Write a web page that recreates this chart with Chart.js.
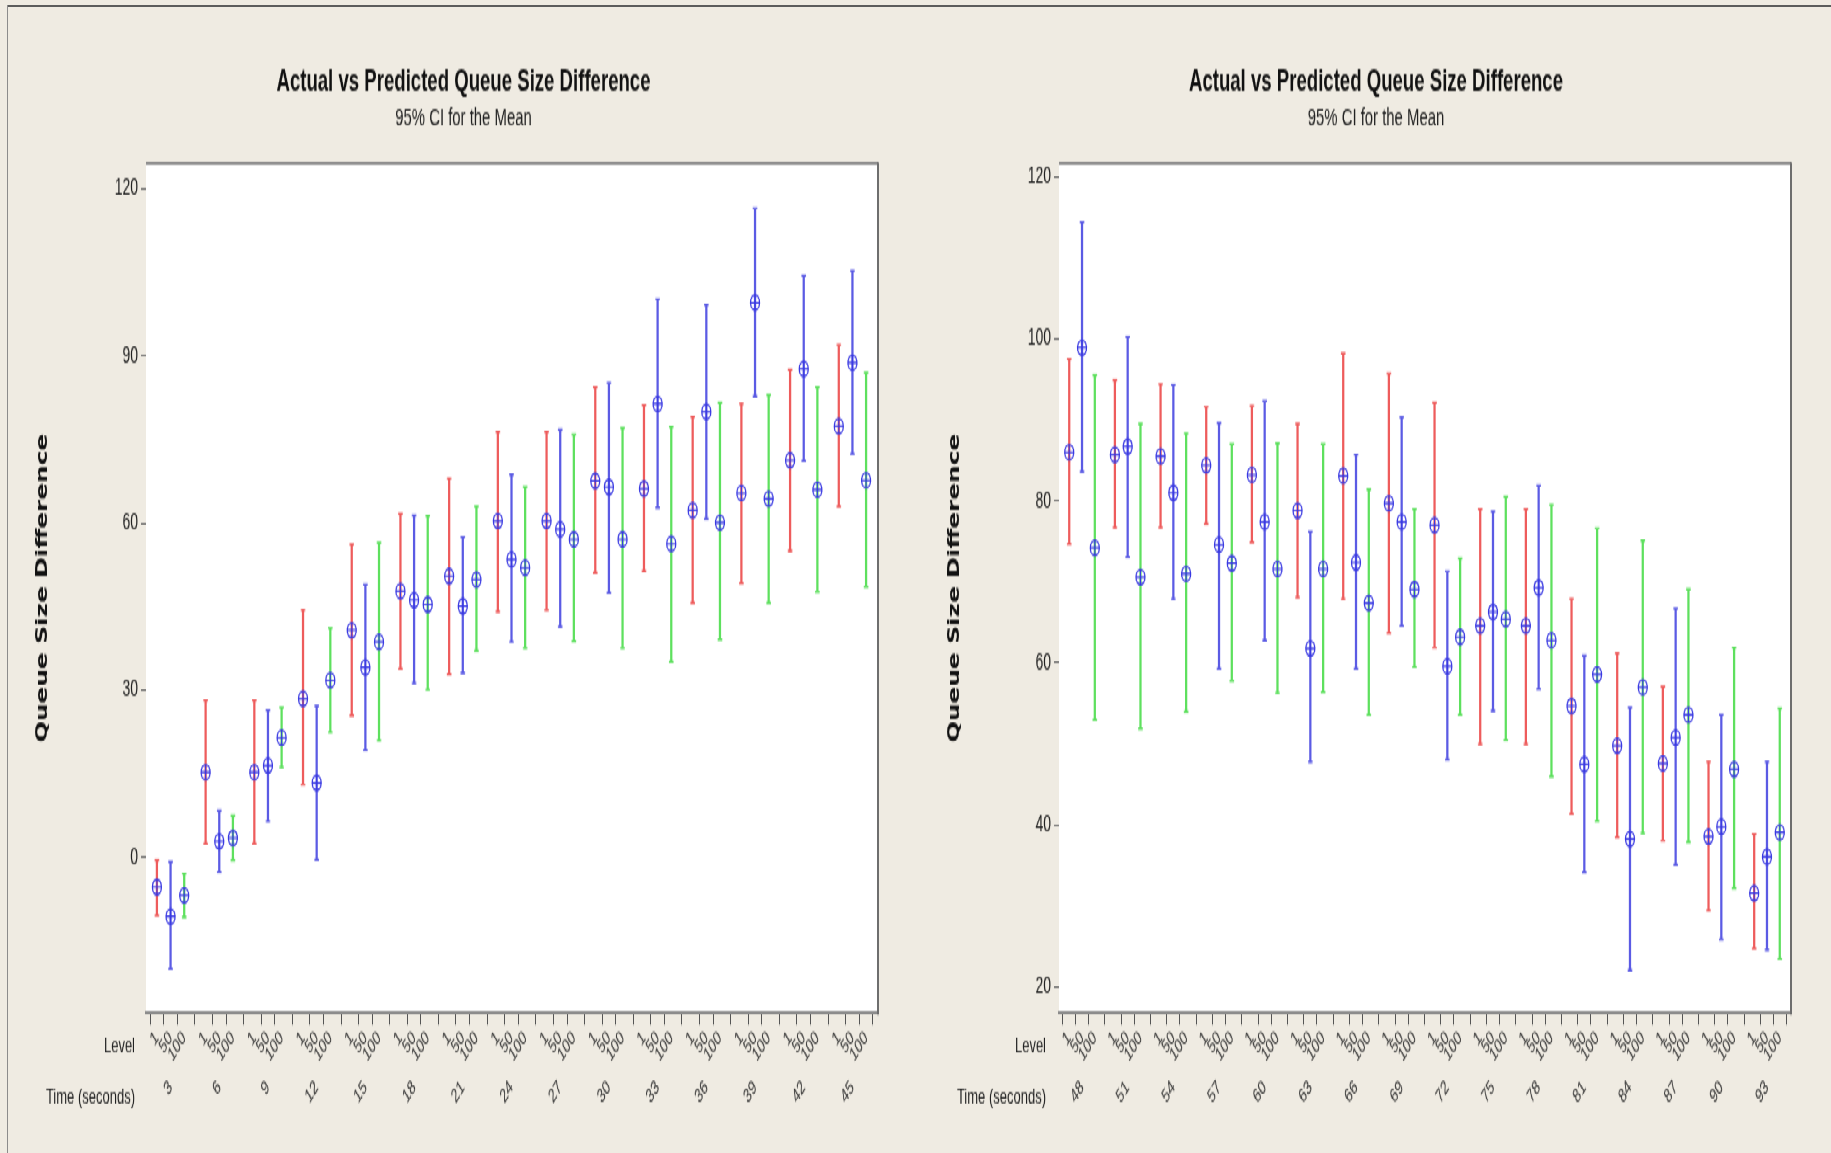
<!DOCTYPE html>
<html><head><meta charset="utf-8">
<script src="https://cdn.jsdelivr.net/npm/chart.js@4.4.1/dist/chart.umd.min.js"></script>
<style>
html,body{margin:0;padding:0;background:#EFEBE2;overflow:hidden;width:1831px;height:1153px;}
#stage{position:absolute;left:0;top:0;width:1831px;height:699px;transform-origin:0 0;transform:scaleY(1.64950);}
#cA{position:absolute;left:0;top:0;}
#cB{position:absolute;left:916px;top:0;}
#ft{position:absolute;left:8px;top:5px;width:1823px;height:2px;background:#5c5c5c;}
#fl{position:absolute;left:7px;top:5px;width:1px;height:1148px;background:#8c8c8c;}
</style></head><body>
<div id="stage"><canvas id="cA" width="916" height="699"></canvas><canvas id="cB" width="915" height="699"></canvas></div>
<div id="ft"></div><div id="fl"></div>
<script>
// ---------- data ----------
const levels = ['1', '50', '100'];
const timesA = [3, 6, 9, 12, 15, 18, 21, 24, 27, 30, 33, 36, 39, 42, 45];
const timesB = [48, 51, 54, 57, 60, 63, 66, 69, 72, 75, 78, 81, 84, 87, 90, 93];
const yTicksA = [0, 30, 60, 90, 120];
const yTicksB = [20, 40, 60, 80, 100, 120];

// left panel (3..45 s)
const meanA1   = [-5.3, 15.3, 15.3, 28.5, 40.8, 47.8, 50.5, 60.4, 60.4, 67.6, 66.2, 62.3, 65.4, 71.3, 77.4];
const lowA1    = [-10.4, 2.5, 2.5, 13.1, 25.5, 33.9, 32.9, 44.1, 44.4, 51.1, 51.4, 45.7, 49.2, 55.0, 63.0];
const highA1   = [-0.5, 28.2, 28.2, 44.4, 56.2, 61.7, 68.0, 76.4, 76.4, 84.4, 81.2, 79.1, 81.4, 87.5, 92.0];
const meanA50  = [-10.6, 2.9, 16.5, 13.4, 34.1, 46.2, 45.1, 53.5, 58.9, 66.5, 81.4, 80.0, 99.6, 87.7, 88.8];
const lowA50   = [-20.0, -2.6, 6.5, -0.4, 19.3, 31.3, 33.1, 38.7, 41.4, 47.5, 62.8, 60.8, 82.8, 71.2, 72.4];
const highA50  = [-0.8, 8.4, 26.4, 27.2, 49.0, 61.4, 57.5, 68.7, 76.8, 85.2, 100.2, 99.2, 116.5, 104.4, 105.3];
const meanA100 = [-6.8, 3.5, 21.5, 31.8, 38.7, 45.4, 49.9, 52.0, 57.1, 57.1, 56.3, 60.1, 64.4, 66.0, 67.7];
const lowA100  = [-10.7, -0.5, 16.2, 22.5, 21.0, 30.1, 37.1, 37.6, 38.8, 37.6, 35.1, 39.1, 45.7, 47.7, 48.6];
const highA100 = [-2.9, 7.5, 26.9, 41.2, 56.5, 61.3, 63.0, 66.5, 75.9, 77.1, 77.3, 81.6, 83.0, 84.4, 87.0];

// right panel (48..93 s)
const meanB1   = [86.0, 85.7, 85.5, 84.4, 83.2, 78.8, 83.1, 79.7, 77.0, 64.6, 64.6, 54.7, 49.8, 47.6, 38.6, 31.6];
const lowB1    = [74.7, 76.7, 76.7, 77.2, 74.9, 68.1, 67.9, 63.7, 61.9, 50.0, 50.0, 41.4, 38.5, 38.1, 29.5, 24.8];
const highB1   = [97.5, 94.9, 94.4, 91.6, 91.7, 89.5, 98.2, 95.7, 92.1, 79.0, 79.0, 67.9, 61.2, 57.1, 47.8, 38.9];
const meanB50  = [98.9, 86.7, 81.0, 74.6, 77.4, 61.8, 72.4, 77.4, 59.6, 66.3, 69.3, 47.5, 38.3, 50.8, 39.8, 36.1];
const lowB50   = [83.6, 73.1, 67.9, 59.3, 62.8, 47.8, 59.3, 64.6, 48.1, 54.1, 56.8, 34.2, 22.1, 35.1, 25.9, 24.6];
const highB50  = [114.4, 100.2, 94.3, 89.6, 92.3, 76.2, 85.7, 90.3, 71.3, 78.7, 81.9, 60.9, 54.5, 66.7, 53.6, 47.8];
const meanB100 = [74.2, 70.6, 71.0, 72.3, 71.6, 71.6, 67.4, 69.1, 63.2, 65.4, 62.8, 58.6, 57.0, 53.6, 46.9, 39.1];
const lowB100  = [53.0, 51.9, 54.0, 57.8, 56.3, 56.4, 53.6, 59.5, 53.6, 50.5, 46.0, 40.5, 39.0, 37.9, 32.2, 23.5];
const highB100 = [95.5, 89.5, 88.3, 87.0, 87.1, 87.0, 81.4, 79.0, 72.9, 80.5, 79.5, 76.6, 75.1, 69.1, 61.9, 54.4];

// ---------- style ----------
const BG = '#EFEBE2';
const NARROW = "'Liberation Sans Narrow', 'Liberation Sans', Arial, sans-serif";
const SANS = "'Liberation Sans', Arial, sans-serif";
const levelColors = ['#EE5C5C', '#5B5BE4', '#5EE05E'];
const markColor = '#3A3AE2';
const GROUP = 3.57;   // spacing of time groups, in level units
const EDGE = 0.8;

const deco = {
  id: 'deco',
  beforeDraw(chart) {
    const {ctx, chartArea: a, width, height} = chart;
    ctx.save();
    ctx.fillStyle = BG; ctx.fillRect(0, 0, width, height);
    ctx.fillStyle = '#ffffff'; ctx.fillRect(a.left, a.top, a.right - a.left, a.bottom - a.top);
    ctx.restore();
  },
  afterDraw(chart, args, o) {
    const {ctx, chartArea: a} = chart;
    ctx.save();
    // frame: top and right edges
    ctx.strokeStyle = '#6e6e6e';
    ctx.lineWidth = 1.5;
    ctx.beginPath(); ctx.moveTo(a.left, a.top + 0.5); ctx.lineTo(a.right + 1, a.top + 0.5); ctx.stroke();
    ctx.lineWidth = 2;
    ctx.beginPath(); ctx.moveTo(a.right + 1, a.top); ctx.lineTo(a.right + 1, a.bottom + 1); ctx.stroke();
    // titles
    ctx.fillStyle = '#111';
    ctx.textAlign = 'center'; ctx.textBaseline = 'alphabetic';
    ctx.font = 'bold 18.6px ' + SANS;
    ctx.fillText(o.title, o.titleX, 54.8);
    ctx.fillStyle = '#222';
    ctx.font = '14.9px ' + SANS;
    ctx.fillText(o.subtitle, o.titleX, 76.3);
    // row headings of the x axis
    ctx.font = '13px ' + NARROW;
    ctx.fillStyle = '#222';
    ctx.textAlign = 'right'; ctx.textBaseline = 'middle';
    ctx.fillText('Level', a.left - o.headGap, 634.5);
    ctx.fillText('Time (seconds)', a.left - o.headGap, 665);
    ctx.restore();
  }
};

function buildPanel(canvasId, times, meanArr, lowArr, highArr, yMin, yMax, yTicks, cfg) {
  const pts = [];
  times.forEach((t, g) => {
    for (let l = 0; l < 3; l++) {
      pts.push({x: g * GROUP + l, l: l, m: meanArr[l][g], lo: lowArr[l][g], hi: highArr[l][g]});
    }
  });
  const xMax = (times.length - 1) * GROUP + 2 + EDGE;
  const caps = [], capColors = [];
  pts.forEach(p => {
    caps.push({x: p.x, y: p.lo}); capColors.push(levelColors[p.l]);
    caps.push({x: p.x, y: p.hi}); capColors.push(levelColors[p.l]);
  });
  const means = pts.map(p => ({x: p.x, y: p.m}));

  return new Chart(document.getElementById(canvasId), {
    type: 'bar',
    data: {
      datasets: [
        {type: 'scatter', data: means, pointStyle: 'cross', pointRadius: 4.5, pointBorderWidth: 1.1,
         pointBorderColor: markColor, pointBackgroundColor: 'rgba(0,0,0,0)', order: 1},
        {type: 'scatter', data: means, pointStyle: 'circle', pointRadius: 4.5, pointBorderWidth: 1.3,
         pointBorderColor: markColor, pointBackgroundColor: 'rgba(0,0,0,0)', order: 1},
        {type: 'scatter', data: caps, pointStyle: 'line', pointRadius: 2.3, pointBorderWidth: 1.4,
         pointBorderColor: capColors, order: 2},
        {type: 'bar', data: pts.map(p => ({x: p.x, y: [p.lo, p.hi]})),
         backgroundColor: pts.map(p => levelColors[p.l]), borderWidth: 0,
         barThickness: 1.6, grouped: false, order: 3}
      ]
    },
    options: {
      responsive: false, animation: false, devicePixelRatio: 1, events: [],
      layout: {padding: {left: cfg.padL, right: cfg.padR, top: 98.6, bottom: 23.7}},
      plugins: {
        legend: {display: false}, tooltip: {enabled: false},
        deco: {title: 'Actual vs Predicted Queue Size Difference', subtitle: '95% CI for the Mean',
               titleX: cfg.titleX, headGap: cfg.headGap}
      },
      scales: {
        x: {
          type: 'linear', position: 'bottom', min: -EDGE, max: xMax, offset: false,
          afterBuildTicks: s => { s.ticks = pts.map(p => ({value: p.x})); },
          afterFit: s => { s.height = 36; },
          grid: {display: true, drawOnChartArea: false, drawTicks: true, tickLength: 7, color: '#555', lineWidth: 1},
          border: {display: true, color: '#8c8c8c', width: 2},
          ticks: {autoSkip: false, minRotation: 45, maxRotation: 45, padding: 1,
                  font: {family: NARROW, size: 12}, color: '#333',
                  callback: (v, i) => levels[i % 3]}
        },
        x2: {
          type: 'linear', position: 'bottom', min: -EDGE, max: xMax, offset: false,
          afterBuildTicks: s => { s.ticks = times.map((t, g) => ({value: g * GROUP + 1})); },
          afterFit: s => { s.height = 25; },
          grid: {display: false, drawTicks: false}, border: {display: false},
          ticks: {autoSkip: false, minRotation: 45, maxRotation: 45, padding: 2,
                  font: {family: NARROW, size: 12}, color: '#333',
                  callback: (v, i) => String(times[i])}
        },
        y: {
          type: 'linear', min: yMin, max: yMax, beginAtZero: false,
          afterBuildTicks: s => { s.ticks = yTicks.map(v => ({value: v})); },
          afterFit: s => { s.width = cfg.yW; },
          grid: {drawOnChartArea: false, drawTicks: true, tickLength: 5, color: '#666'},
          border: {display: false},
          ticks: {padding: 3, font: {family: NARROW, size: 14}, color: '#222'},
          title: {display: true, text: 'Queue Size Difference', color: '#111', padding: 0,
                  font: {family: "'DejaVu Sans', Verdana, sans-serif", weight: 'bold', size: 15}}
        }
      }
    },
    plugins: [deco]
  });
}

buildPanel('cA', timesA, [meanA1, meanA50, meanA100], [lowA1, lowA50, lowA100], [highA1, highA50, highA100],
  -27.97, 124.72, yTicksA, {padL: 34, padR: 39, yW: 112, titleX: 463.5, headGap: 11});
buildPanel('cB', timesB, [meanB1, meanB50, meanB100], [lowB1, lowB50, lowB100], [highB1, highB50, highB100],
  16.79, 121.73, yTicksB, {padL: 30, padR: 41, yW: 113, titleX: 460, headGap: 13});
</script>
</body></html>
